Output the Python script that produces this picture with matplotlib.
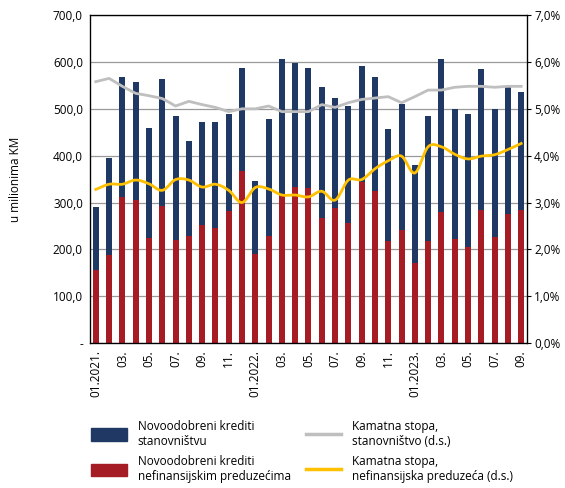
import matplotlib
matplotlib.use("Agg")
import matplotlib.pyplot as plt
from matplotlib.patches import Patch
from matplotlib.lines import Line2D
import numpy as np

plt.rcParams["font.family"] = ["Open Sans", "DejaVu Sans"]

# Jan 2021 .. Sep 2023, monthly
months = ["01.2021.", "02.", "03.", "04.", "05.", "06.", "07.", "08.", "09.", "10.", "11.", "12.",
          "01.2022.", "02.", "03.", "04.", "05.", "06.", "07.", "08.", "09.", "10.", "11.", "12.",
          "01.2023.", "02.", "03.", "04.", "05.", "06.", "07.", "08.", "09."]

# totals (top of stacked bar) and corporate part, mil. KM
total = [291, 395, 567, 558, 460, 564, 484, 432, 472, 472, 490, 588,
         346, 479, 607, 598, 588, 546, 524, 506, 591, 567, 457, 510,
         380, 484, 607, 500, 490, 586, 500, 546, 536]
corporate = [157, 187, 312, 306, 224, 293, 221, 229, 251, 245, 282, 368,
             190, 229, 313, 333, 331, 266, 288, 257, 343, 325, 217, 242,
             171, 217, 279, 222, 205, 285, 227, 276, 285]
households = [t - c for t, c in zip(total, corporate)]

# interest rates, %
rate_hh = [5.58, 5.65, 5.48, 5.33, 5.28, 5.22, 5.06, 5.16, 5.09, 5.03, 4.94, 5.00,
           5.00, 5.06, 4.94, 4.94, 4.94, 5.09, 5.03, 5.13, 5.20, 5.23, 5.26, 5.13,
           5.26, 5.40, 5.40, 5.46, 5.48, 5.48, 5.46, 5.48, 5.48]
rate_corp = [3.28, 3.39, 3.39, 3.48, 3.40, 3.26, 3.49, 3.48, 3.33, 3.39, 3.26, 3.00,
             3.32, 3.29, 3.16, 3.16, 3.12, 3.24, 3.05, 3.48, 3.49, 3.72, 3.89, 3.99,
             3.63, 4.19, 4.19, 4.03, 3.93, 3.99, 4.02, 4.13, 4.26]

BLUE = "#1f3864"
RED = "#a51c24"
GRAY = "#bfbfbf"
YELLOW = "#ffc000"


def smooth(x, y, n=12):
    # Catmull-Rom curve through the points (like Excel's smoothed line)
    x = np.asarray(x, float)
    y = np.asarray(y, float)
    px = np.concatenate([[2 * x[0] - x[1]], x, [2 * x[-1] - x[-2]]])
    py = np.concatenate([[2 * y[0] - y[1]], y, [2 * y[-1] - y[-2]]])
    xs, ys = [], []
    t = np.linspace(0, 1, n, endpoint=False)
    for i in range(1, len(px) - 2):
        for p, out in ((px, xs), (py, ys)):
            p0, p1, p2, p3 = p[i - 1], p[i], p[i + 1], p[i + 2]
            out.extend(0.5 * (2 * p1 + (-p0 + p2) * t
                              + (2 * p0 - 5 * p1 + 4 * p2 - p3) * t ** 2
                              + (-p0 + 3 * p1 - 3 * p2 + p3) * t ** 3))
    xs.append(x[-1])
    ys.append(y[-1])
    return np.array(xs), np.array(ys)


fig = plt.figure(figsize=(5.65, 4.88), dpi=100)
ax = fig.add_axes([0.159, 0.297, 0.774, 0.672])
x = np.arange(len(months))
w = 0.45

ax.bar(x, corporate, w, color=RED, zorder=2)
ax.bar(x, households, w, bottom=corporate, color=BLUE, zorder=2)
ax.set_ylim(0, 700)
ax.set_xlim(-0.45, len(months) - 0.55)
ax.set_yticks(np.arange(0, 701, 100))
ax.set_yticklabels(["-"] + [f"{v:,.1f}".replace(".", ",") for v in range(100, 701, 100)], fontsize=8.5)
ax.yaxis.grid(True, color="#999999", linewidth=0.9, zorder=0)
ax.set_axisbelow(True)
ax.set_xticks(x[::2])
ax.set_xticklabels(months[::2], rotation=90, fontsize=8.5)
ax.tick_params(length=0, pad=5)
ax.set_ylabel("u milionima KM", fontsize=8.5, labelpad=22)
for s in ax.spines.values():
    s.set_linewidth(0.9)

ax2 = ax.twinx()
ax2.plot(x, rate_hh, color=GRAY, linewidth=2, zorder=3)
sx, sy = smooth(x, rate_corp)
ax2.plot(sx, sy, color=YELLOW, linewidth=2, zorder=3)
ax2.set_ylim(0, 7)
ax2.set_yticks(np.arange(0, 7.1, 1))
ax2.set_yticklabels([f"{v:.1f}%".replace(".", ",") for v in range(0, 8)], fontsize=8.5)
ax2.tick_params(length=3, pad=2)

handles = [Patch(color=BLUE), Patch(color=RED),
           Line2D([], [], color=GRAY, linewidth=2.5), Line2D([], [], color=YELLOW, linewidth=2.5)]
labels = ["Novoodobreni krediti\nstanovništvu", "Novoodobreni krediti\nnefinansijskim preduzećima",
          "Kamatna stopa,\nstanovništvo (d.s.)", "Kamatna stopa,\nnefinansijska preduzeća (d.s.)"]
fig.legend(handles, labels, ncol=2, loc="center", bbox_to_anchor=(0.535, 0.075), frameon=False,
           fontsize=8.5, handlelength=3.0, handleheight=1.3, columnspacing=1.3,
           labelspacing=0.6, handletextpad=0.9)

fig.savefig("out.png", dpi=100)
